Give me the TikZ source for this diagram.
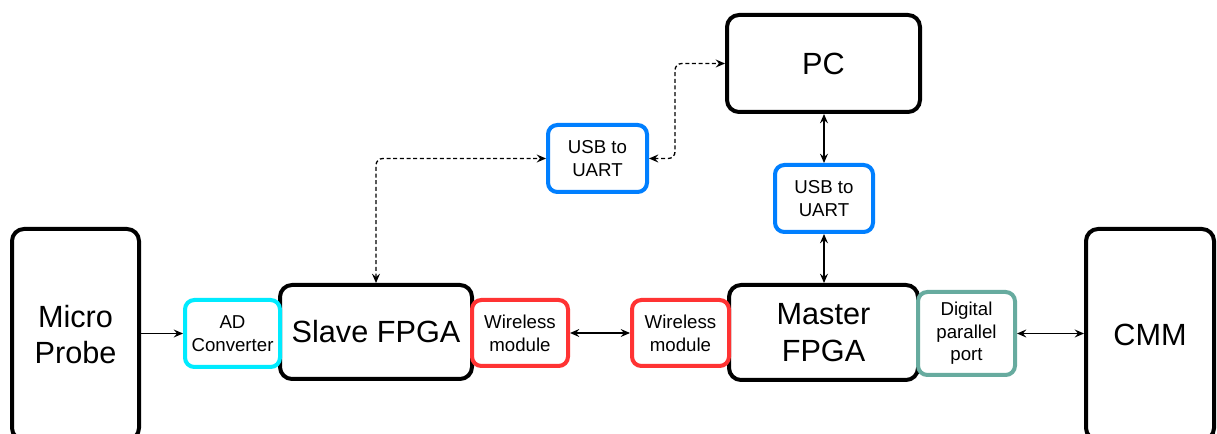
\documentclass[tikz,border=0pt]{standalone}
\usepackage{fontspec}
\setmainfont{Liberation Sans}
\usetikzlibrary{arrows.meta}
\definecolor{cyanb}{RGB}{0,235,255}
\definecolor{blueb}{RGB}{0,127,255}
\definecolor{redb}{RGB}{255,51,51}
\definecolor{tealb}{RGB}{103,171,159}
\begin{document}
\begin{tikzpicture}[x=0.75pt,y=-0.75pt,
  bx/.style 2 args={minimum width=#1*0.75pt, minimum height=#2*0.75pt, inner sep=0pt, align=center, rounded corners=9pt, fill=white},
  big/.style={draw=black, line width=3pt, font=\fontsize{23}{27.5}\selectfont},
  small/.style={line width=3pt, font=\fontsize{14}{17}\selectfont, rounded corners=7pt},
  conn/.style={line width=1pt, {Stealth[length=7pt,width=6pt,inset=2.5pt]}-{Stealth[length=7pt,width=6pt,inset=2.5pt]}},
  oneway/.style={line width=1pt, -{Stealth[length=7pt,width=6pt,inset=2.5pt]}},
  dashconn/.style={line width=1pt, dash pattern=on 3pt off 2pt, rounded corners=5pt, {Stealth[length=7pt,width=6pt,inset=2.5pt]}-{Stealth[length=7pt,width=6pt,inset=2.5pt]}}]
\useasboundingbox (0,0) rectangle (1217,434);
\node[bx={127}{211}, big] (probe) at (75.5,334.5) {Micro\\Probe};
\node[bx={128}{211}, big] (cmm) at (1150,334.5) {CMM};
\node[bx={192}{94}, big] (slave) at (376,332) {Slave FPGA};
\node[bx={189}{95}, big] (master) at (823.5,332.5) {Master\\FPGA};
\node[bx={193}{97}, big] (pc) at (823.5,63.5) {PC};
\node[bx={95}{67}, small, draw=cyanb] (adc) at (232.5,333.5) {AD\\Converter};
\node[bx={96}{66}, small, draw=redb] (wl) at (520,333) {Wireless\\module};
\node[bx={97}{66}, small, draw=redb] (wr) at (680.5,333) {Wireless\\module};
\node[bx={97}{83}, small, draw=tealb] (dpp) at (966.5,333.5) {Digital\\parallel\\port};
\node[bx={98}{67}, small, draw=blueb] (usbr) at (824,198.5) {USB to\\UART};
\node[bx={99}{67}, small, draw=blueb] (usbl) at (597.5,158.5) {USB to\\UART};
\coordinate (ja) at (376,158.5);
\coordinate (jb) at (675,158.5);
\coordinate (jc) at (675,63.5);
\draw[oneway] (probe.east |- adc.west) -- (adc.west);
\draw[conn] (wl.east) -- (wr.west);
\draw[conn] (dpp.east) -- (dpp.east -| cmm.west);
\draw[conn] (pc.south -| usbr.north) -- (usbr.north);
\draw[conn] (usbr.south) -- (usbr.south |- master.north);
\draw[dashconn] (slave.north) -- (ja) -- (usbl.west);
\draw[dashconn] (usbl.east) -- (jb) -- (jc) -- (pc.west);
\end{tikzpicture}
\end{document}
